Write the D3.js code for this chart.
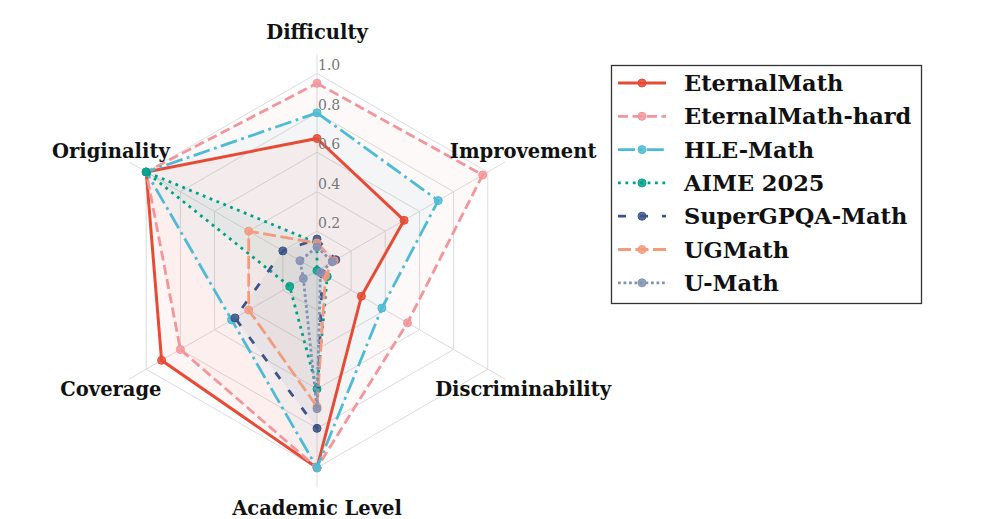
<!DOCTYPE html>
<html><head><meta charset="utf-8">
<script src="https://cdn.jsdelivr.net/npm/d3@7"></script>
<style>body{margin:0;background:#fff}svg{display:block}</style>
</head><body>
<svg id="c" width="997" height="519"></svg>
<script>
const categories = ["Difficulty","Improvement","Discriminability","Academic Level","Coverage","Originality"];
const seriesNames = ["EternalMath","EternalMath-hard","HLE-Math","AIME 2025","SuperGPQA-Math","UGMath","U-Math"];
const eternalMath     = [0.67, 0.51, 0.26, 1.00, 0.91, 1.00];
const eternalMathHard = [0.95, 0.97, 0.53, 1.00, 0.80, 1.00];
const hleMath         = [0.80, 0.71, 0.38, 1.00, 0.50, 1.00];
const aime2025        = [0.14, 0.00, 0.06, 0.60, 0.16, 1.00];
const superGPQAMath   = [0.16, 0.11, 0.03, 0.80, 0.48, 0.20];
const ugMath          = [0.14, 0.10, 0.05, 0.69, 0.40, 0.40];
const uMath           = [0.12, 0.09, 0.02, 0.70, 0.08, 0.10];
const radialTicks = [0.2, 0.4, 0.6, 0.8, 1.0];
const tickLabels = ["0.2","0.4","0.6","0.8","1.0"];

const seriesValues = [eternalMath, eternalMathHard, hleMath, aime2025, superGPQAMath, ugMath, uMath];
const colors = ["#E64B35","#F3959A","#4DBBD5","#00A087","#3C5488","#F39B7F","#8491B4"];
const dashes = [null, "10,4.5", "17,4.5,2.8,4.5", "2.8,4.6", "8,14", "13,4.5", "2.8,2.7"];
const widths = [3, 2.8, 2.8, 2.8, 2.8, 2.8, 2.8];

const svg = d3.select("#c");
const cx = 317, cy = 270.6, R = 197.2;
const r = d3.scaleLinear().domain([0, 1]).range([0, R]);
const angle = d3.scaleLinear().domain([0, categories.length]).range([0, 2 * Math.PI]);
const g = svg.append("g").attr("transform", `translate(${cx},${cy})`);
const font = "'DejaVu Serif', serif";

// grid hexagons
const gridLine = d3.lineRadial().angle((d, i) => angle(i)).radius(d => r(d)).curve(d3.curveLinearClosed);
radialTicks.forEach(t => {
  g.append("path").attr("d", gridLine(categories.map(() => t)))
    .attr("fill", "none").attr("stroke", "#dcdcdc").attr("stroke-width", 1);
});
// spokes
categories.forEach((c, i) => {
  const a = angle(i);
  g.append("line").attr("x1", 0).attr("y1", 0)
    .attr("x2", r(1.1) * Math.sin(a)).attr("y2", -r(1.1) * Math.cos(a))
    .attr("stroke", "#dcdcdc").attr("stroke-width", 1);
});

// series
const line = d3.lineRadial().angle((d, i) => angle(i)).radius(d => r(d)).curve(d3.curveLinearClosed);
seriesValues.forEach((vals, k) => {
  g.append("path").attr("d", line(vals)).attr("fill", colors[k]).attr("fill-opacity", 0.055).attr("stroke", "none");
});
seriesValues.forEach((vals, k) => {
  const p = g.append("path").attr("d", line(vals)).attr("fill", "none")
    .attr("stroke", colors[k]).attr("stroke-width", widths[k]);
  if (dashes[k]) p.attr("stroke-dasharray", dashes[k]);
  vals.forEach((v, i) => {
    const a = angle(i);
    g.append("circle").attr("cx", r(v) * Math.sin(a)).attr("cy", -r(v) * Math.cos(a))
      .attr("r", 4).attr("fill", colors[k]).attr("fill-opacity", 0.85)
      .attr("stroke", colors[k]).attr("stroke-width", 1);
  });
});

// radial tick labels
radialTicks.forEach((t, i) => {
  g.append("text").attr("x", 1).attr("y", -r(t) - 8)
    .attr("dominant-baseline", "central").attr("font-family", font)
    .attr("font-size", 14).attr("fill", "#777").text(tickLabels[i]);
});

// category labels
categories.forEach((c, i) => {
  const a = angle(i), rl = 238;
  g.append("text").attr("x", rl * Math.sin(a)).attr("y", -rl * Math.cos(a))
    .attr("text-anchor", "middle").attr("dominant-baseline", "central")
    .attr("font-family", font).attr("font-weight", "bold").attr("font-size", 19.5)
    .attr("fill", "#111").text(c);
});

// legend
const lg = svg.append("g");
lg.append("rect").attr("x", 611.5).attr("y", 65.5).attr("width", 310).attr("height", 238)
  .attr("fill", "#fff").attr("stroke", "#333").attr("stroke-width", 1.3);
seriesNames.forEach((n, k) => {
  const y = 83 + k * 33.3;
  const l = lg.append("line").attr("x1", 618).attr("x2", 666).attr("y1", y).attr("y2", y)
    .attr("stroke", colors[k]).attr("stroke-width", widths[k]);
  if (dashes[k]) l.attr("stroke-dasharray", dashes[k]);
  lg.append("circle").attr("cx", 642).attr("cy", y).attr("r", 4)
    .attr("fill", colors[k]).attr("fill-opacity", 0.85).attr("stroke", colors[k]).attr("stroke-width", 1);
  lg.append("text").attr("x", 684).attr("y", y).attr("dominant-baseline", "central")
    .attr("font-family", font).attr("font-weight", "bold").attr("font-size", 22.5)
    .attr("fill", "#111").text(n);
});
</script>
</body></html>
